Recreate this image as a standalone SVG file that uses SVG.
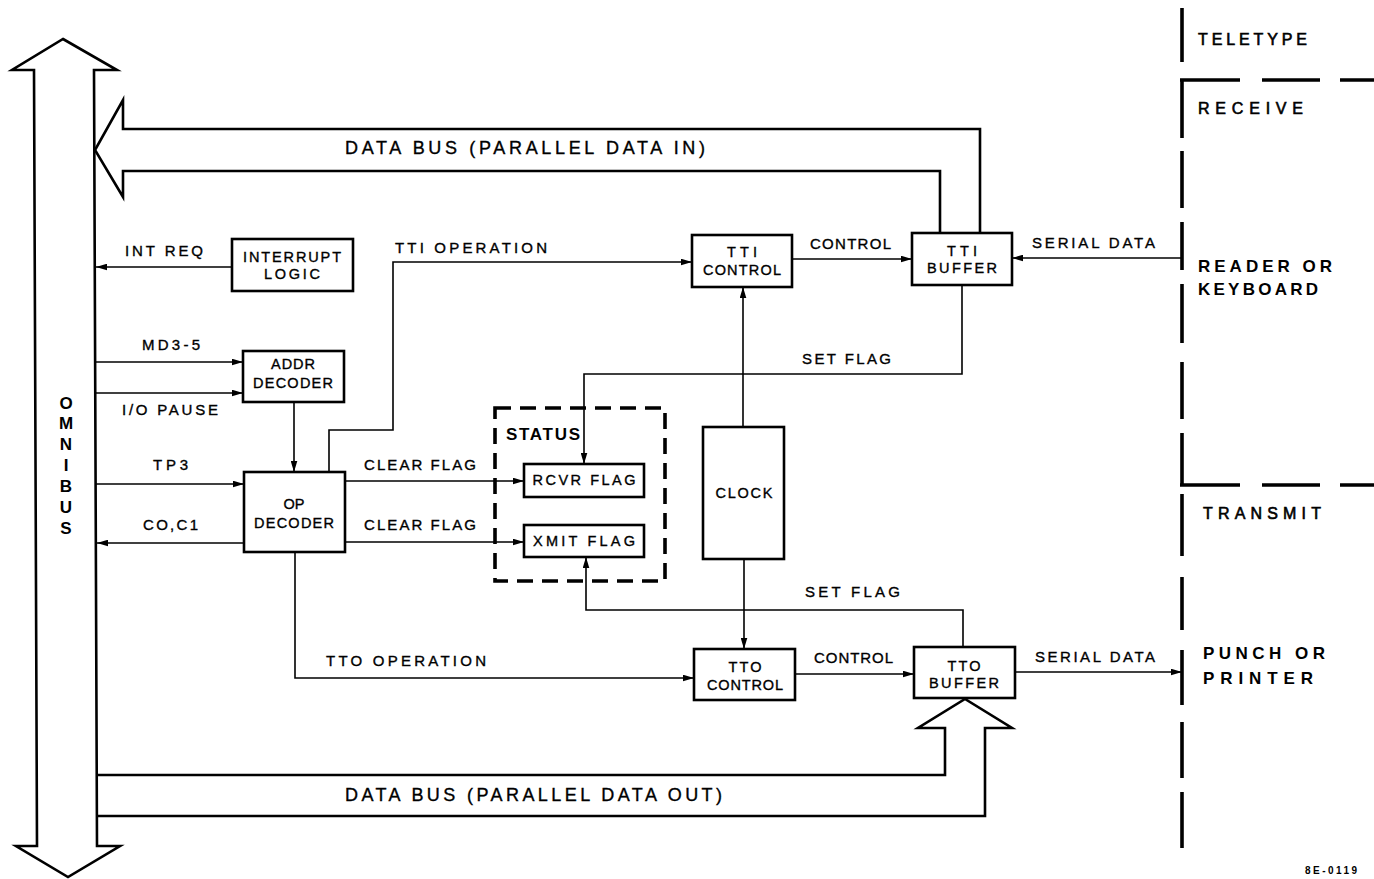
<svg xmlns="http://www.w3.org/2000/svg" width="1374" height="879" viewBox="0 0 1374 879">
<style>
.bg{fill:#fff}
.box{fill:#fff;stroke:#000;stroke-width:2.6}
.big{fill:none;stroke:#000;stroke-width:2.6;stroke-linejoin:miter}
.ln{fill:none;stroke:#000;stroke-width:1.6}
.dash{fill:none;stroke:#000;stroke-width:3.6}
.t{font-family:"Liberation Sans",Arial,sans-serif;font-size:15px;fill:#000;stroke:#000;stroke-width:0.35}
.c{text-anchor:middle}
.bt{font-size:14.5px}
.db{font-size:18px}
.lg{font-family:"Liberation Sans",Arial,sans-serif;font-size:17px;fill:#000;font-weight:bold}
.lgn{font-size:16px;font-weight:normal;stroke:#000;stroke-width:0.6}
.sm{font-size:10px;font-weight:bold;stroke-width:0}
</style>
<defs>
<marker id="ah" viewBox="0 0 10 6" refX="10" refY="3" markerWidth="11" markerHeight="7" markerUnits="userSpaceOnUse" orient="auto">
<path d="M0,0 L10,3 L0,6 Z" fill="#000"/>
</marker>
</defs>
<rect class="bg" x="0" y="0" width="1374" height="879"/>

<g id="omnibus">
<path class="big" d="M63,39 L117,70 L94,70 L97,846 L120,846 L68,877 L16,846 L37,846 L34,70 L12,70 Z"/>
<text class="lg c" x="66" y="409">O</text>
<text class="lg c" x="66" y="429">M</text>
<text class="lg c" x="66" y="450">N</text>
<text class="lg c" x="66" y="471">I</text>
<text class="lg c" x="66" y="492">B</text>
<text class="lg c" x="66" y="513">U</text>
<text class="lg c" x="66" y="534">S</text>
</g>

<g id="databus-in">
<path class="big" d="M940,233 V171 H123 V197 L95,150 L123,100 V129 H980 V233"/>
<text class="t db" x="345" y="154" textLength="360" lengthAdjust="spacing">DATA BUS (PARALLEL DATA IN)</text>
</g>

<g id="databus-out">
<path class="big" d="M98,775 H945 V728 H918 L965,699 L1012,728 H985 V816 H98"/>
<text class="t db" x="345" y="801" textLength="377" lengthAdjust="spacing">DATA BUS (PARALLEL DATA OUT)</text>
</g>

<g id="interrupt-logic">
<rect class="box" x="232" y="239" width="121" height="52"/>
<text class="t c bt" x="292" y="262" textLength="98">INTERRUPT</text>
<text class="t c bt" x="292" y="279" textLength="56">LOGIC</text>
</g>

<g id="addr-decoder">
<rect class="box" x="243" y="351" width="101" height="51"/>
<text class="t c bt" x="293" y="369" textLength="44">ADDR</text>
<text class="t c bt" x="293" y="388" textLength="80">DECODER</text>
</g>

<g id="op-decoder">
<rect class="box" x="244" y="472" width="101" height="80"/>
<text class="t c bt" x="294" y="509">OP</text>
<text class="t c bt" x="294" y="528" textLength="80">DECODER</text>
</g>

<g id="status">
<rect class="dash" x="495" y="408" width="170" height="173" stroke-dasharray="16 9"/>
<text class="lg" x="506" y="440" textLength="74">STATUS</text>
</g>

<g id="rcvr-flag">
<rect class="box" x="524" y="464" width="120" height="33"/>
<text class="t c bt" x="584" y="485" textLength="103">RCVR FLAG</text>
</g>

<g id="xmit-flag">
<rect class="box" x="524" y="525" width="120" height="32"/>
<text class="t c bt" x="584" y="546" textLength="102">XMIT FLAG</text>
</g>

<g id="clock">
<rect class="box" x="703" y="427" width="81" height="132"/>
<text class="t c bt" x="744" y="498" textLength="57">CLOCK</text>
</g>

<g id="tti-control">
<rect class="box" x="692" y="235" width="100" height="52"/>
<text class="t c bt" x="742" y="257" textLength="30">TTI</text>
<text class="t c bt" x="742" y="275" textLength="78">CONTROL</text>
</g>

<g id="tti-buffer">
<rect class="box" x="912" y="233" width="100" height="52"/>
<text class="t c bt" x="962" y="256" textLength="30">TTI</text>
<text class="t c bt" x="962" y="273" textLength="70">BUFFER</text>
</g>

<g id="tto-control">
<rect class="box" x="694" y="649" width="101" height="51"/>
<text class="t c bt" x="745" y="672" textLength="33">TTO</text>
<text class="t c bt" x="745" y="690" textLength="76">CONTROL</text>
</g>

<g id="tto-buffer">
<rect class="box" x="914" y="647" width="101" height="51"/>
<text class="t c bt" x="964" y="671" textLength="33">TTO</text>
<text class="t c bt" x="964" y="688" textLength="70">BUFFER</text>
</g>

<g id="connectors">
<path class="ln" d="M232,267 H96" marker-end="url(#ah)"/>
<path class="ln" d="M96,362 H243" marker-end="url(#ah)"/>
<path class="ln" d="M96,393 H243" marker-end="url(#ah)"/>
<path class="ln" d="M294,402 V472" marker-end="url(#ah)"/>
<path class="ln" d="M96,484 H244" marker-end="url(#ah)"/>
<path class="ln" d="M244,543 H97" marker-end="url(#ah)"/>
<path class="ln" d="M329,472 V430 H393 V262 H692" marker-end="url(#ah)"/>
<path class="ln" d="M345,481 H524" marker-end="url(#ah)"/>
<path class="ln" d="M345,542 H524" marker-end="url(#ah)"/>
<path class="ln" d="M295,552 V678 H694" marker-end="url(#ah)"/>
<path class="ln" d="M792,259 H912" marker-end="url(#ah)"/>
<path class="ln" d="M1182,258 H1012" marker-end="url(#ah)"/>
<path class="ln" d="M962,285 V374 H584 V464" marker-end="url(#ah)"/>
<path class="ln" d="M743,427 V287" marker-end="url(#ah)"/>
<path class="ln" d="M744,559 V649" marker-end="url(#ah)"/>
<path class="ln" d="M963,647 V610 H586 V557" marker-end="url(#ah)"/>
<path class="ln" d="M795,674 H914" marker-end="url(#ah)"/>
<path class="ln" d="M1015,672 H1182" marker-end="url(#ah)"/>
</g>

<g id="labels">
<text class="t" x="125" y="256" textLength="78">INT REQ</text>
<text class="t" x="142" y="350" textLength="58">MD3-5</text>
<text class="t" x="122" y="415" textLength="96">I/O PAUSE</text>
<text class="t" x="153" y="470" textLength="35">TP3</text>
<text class="t" x="143" y="530" textLength="55">CO,C1</text>
<text class="t" x="395" y="253" textLength="152">TTI OPERATION</text>
<text class="t" x="364" y="470" textLength="112">CLEAR FLAG</text>
<text class="t" x="364" y="530" textLength="112">CLEAR FLAG</text>
<text class="t" x="810" y="249" textLength="81">CONTROL</text>
<text class="t" x="1032" y="248" textLength="123">SERIAL DATA</text>
<text class="t" x="802" y="364" textLength="89">SET FLAG</text>
<text class="t" x="805" y="597" textLength="95">SET FLAG</text>
<text class="t" x="326" y="666" textLength="160">TTO OPERATION</text>
<text class="t" x="814" y="663" textLength="79">CONTROL</text>
<text class="t" x="1035" y="662" textLength="120">SERIAL DATA</text>
</g>

<g id="teletype">
<path class="dash" d="M1182,8 V62 M1182,80 V138 M1182,151 V208 M1182,222 V270 M1182,284 V343 M1182,362 V419 M1182,433 V485 M1182,494 V556 M1182,577 V630 M1182,650 V705 M1182,722 V778 M1182,792 V848"/>
<path class="dash" d="M1180,80 H1240 M1262,80 H1320 M1340,80 H1374 M1180,485 H1240 M1262,485 H1320 M1340,485 H1374" stroke-width="3"/>
<text class="lg lgn" x="1198" y="45" textLength="109">TELETYPE</text>
<text class="lg lgn" x="1198" y="114" textLength="105">RECEIVE</text>
<text class="lg" x="1198" y="272" textLength="134">READER OR</text>
<text class="lg" x="1198" y="295" textLength="120">KEYBOARD</text>
<text class="lg lgn" x="1203" y="519" textLength="118">TRANSMIT</text>
<text class="lg" x="1203" y="659" textLength="122">PUNCH OR</text>
<text class="lg" x="1203" y="684" textLength="110">PRINTER</text>
<text class="t sm" x="1305" y="874" textLength="52">8E-0119</text>
</g>
</svg>
